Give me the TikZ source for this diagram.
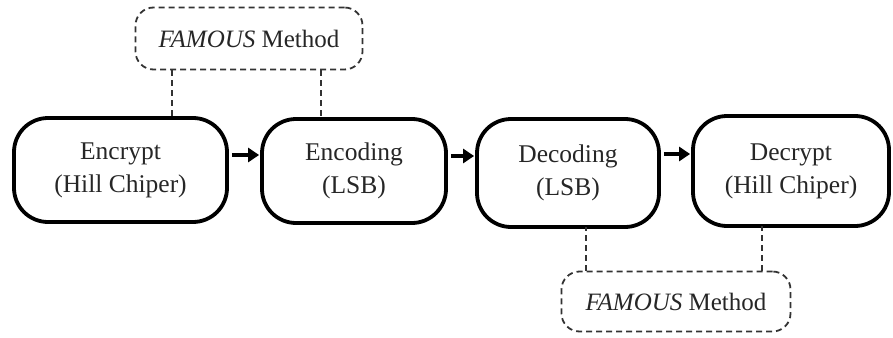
\documentclass[tikz,border=0pt]{standalone}
\usepackage{fontspec}
\setmainfont{Liberation Serif}
\usetikzlibrary{arrows.meta,calc}
\begin{document}
\begin{tikzpicture}[x=1pt,y=-1pt,
  stepbox/.style={draw=black,line width=3.8pt,rounded corners=34pt,inner sep=0pt,
    align=center,font=\fontsize{25.5}{33}\selectfont,text=black!85},
  fambox/.style={draw=black!80,line width=1.8pt,dash pattern=on 6pt off 4pt,rounded corners=18pt,
    inner sep=0pt,font=\fontsize{25}{30}\selectfont,text=black!85},
  dline/.style={draw=black!80,line width=1.8pt,dash pattern=on 6pt off 4pt},
  flow/.style={line width=4pt,-{Triangle[length=11pt,width=14pt]},shorten <=3pt,shorten >=1pt}]
\useasboundingbox (0,0) rectangle (893,337);
\node[stepbox,minimum width=213pt,minimum height=104pt] (b1) at (120.5,170) {Encrypt\\(Hill Chiper)};
\node[stepbox,minimum width=184pt,minimum height=104pt] (b2) at (354,171) {Encoding\\(LSB)};
\node[stepbox,minimum width=182pt,minimum height=108pt] (b3) at (568,173) {Decoding\\(LSB)};
\node[stepbox,minimum width=196pt,minimum height=110pt] (b4) at (791,171) {Decrypt\\(Hill Chiper)};
\node[fambox,minimum width=227pt,minimum height=62pt] (f1) at (249,38.5) {\textit{FAMOUS} Method};
\node[fambox,minimum width=229pt,minimum height=60pt] (f2) at (676,301.5) {\textit{FAMOUS} Method};
\coordinate (a1) at ($(b1.east)+(0,-15)$);
\coordinate (a2) at ($(b2.east)+(0,-15)$);
\coordinate (a3) at ($(b3.east)+(0,-19)$);
\draw[flow] (a1) -- (a1 -| b2.west);
\draw[flow] (a2) -- (a2 -| b3.west);
\draw[flow] (a3) -- (a3 -| b4.west);
\coordinate (t1) at ([xshift=51.5pt]b1.north);
\coordinate (t2) at ([xshift=-33pt]b2.north);
\coordinate (u1) at ([xshift=18pt]b3.south);
\coordinate (u2) at ([xshift=-29pt]b4.south);
\draw[dline] (f1.south -| t1) -- ([yshift=-2pt]t1);
\draw[dline] (f1.south -| t2) -- ([yshift=-2pt]t2);
\draw[dline] (f2.north -| u1) -- ([yshift=2pt]u1);
\draw[dline] (f2.north -| u2) -- ([yshift=2pt]u2);
\end{tikzpicture}
\end{document}
